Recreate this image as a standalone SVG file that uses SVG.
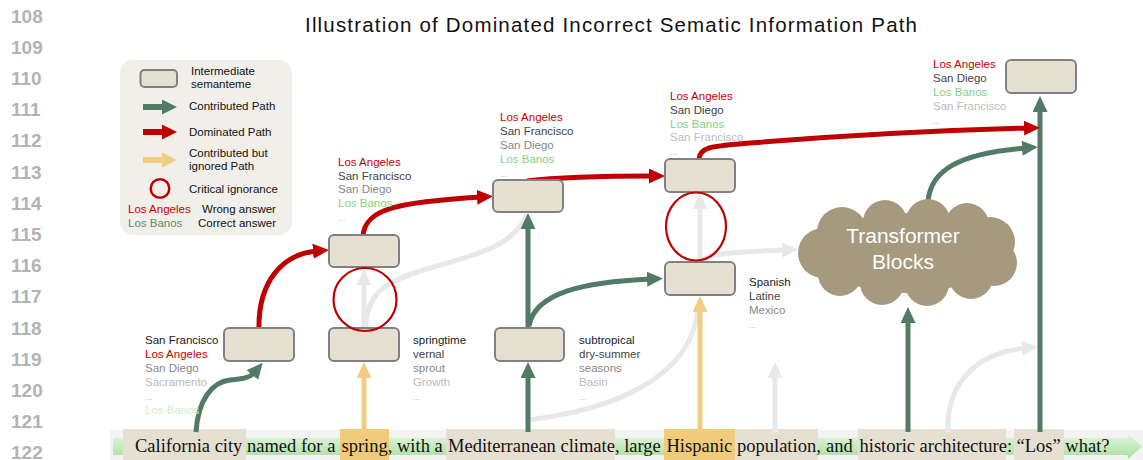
<svg xmlns="http://www.w3.org/2000/svg" width="1143" height="460" viewBox="0 0 1143 460">
<style>
.ln{font-family:"Liberation Sans",Arial,sans-serif;font-size:19px;font-weight:bold;fill:#b3b3b3}
.t{font-family:"Liberation Sans",Arial,sans-serif;font-size:11.5px}
.lg{font-family:"Liberation Sans",Arial,sans-serif;font-size:11.5px;fill:#111}
.node{fill:#e6e0d2;stroke:#808080;stroke-width:2}
.cg{fill:none;stroke:#527b65;stroke-width:5}
.cr{fill:none;stroke:#c00000;stroke-width:5}
.cy{fill:none;stroke:#f1cd80;stroke-width:5}
.cl{fill:none;stroke:#e7e8e8;stroke-width:5}
.crit{fill:none;stroke:#c00000;stroke-width:2.2}
.red{fill:#cc0000}.blk{fill:#1a1a1a}.dk{fill:#444}.gr{fill:#888}.lt{fill:#bbb}.grn{fill:#7ed37e}
.dots{font-size:9px;fill:#bbb}
.hb{fill:#e6e0d2}.ho{fill:#f0cb7c}
.sent{font-family:"Liberation Serif","Times New Roman",serif;font-size:18.5px;fill:#111}
</style>
<defs>
<marker id="mg" viewBox="0 0 16 15" refX="4" refY="7.5" markerWidth="16" markerHeight="15" markerUnits="userSpaceOnUse" orient="auto"><path d="M0,0 L16,7.5 L0,15 z" fill="#527b65"/></marker>
<marker id="mr" viewBox="0 0 16 15" refX="4" refY="7.5" markerWidth="16" markerHeight="15" markerUnits="userSpaceOnUse" orient="auto"><path d="M0,0 L16,7.5 L0,15 z" fill="#c00000"/></marker>
<marker id="my" viewBox="0 0 16 15" refX="4" refY="7.5" markerWidth="16" markerHeight="15" markerUnits="userSpaceOnUse" orient="auto"><path d="M0,0 L16,7.5 L0,15 z" fill="#f1cd80"/></marker>
<marker id="ml" viewBox="0 0 16 15" refX="4" refY="7.5" markerWidth="16" markerHeight="15" markerUnits="userSpaceOnUse" orient="auto"><path d="M0,0 L16,7.5 L0,15 z" fill="#e7e8e8"/></marker>
<linearGradient id="bar" x1="0" y1="0" x2="0" y2="1">
<stop offset="0" stop-color="#e2f6dd"/><stop offset="1" stop-color="#a9dea0"/>
</linearGradient>
</defs>
<rect width="1143" height="460" fill="#fff"/>

<g id="line-numbers">
<text class="ln" x="11" y="22.5">108</text>
<text class="ln" x="11" y="53.7">109</text>
<text class="ln" x="11" y="84.9">110</text>
<text class="ln" x="11" y="116.1">111</text>
<text class="ln" x="11" y="147.3">112</text>
<text class="ln" x="11" y="178.5">113</text>
<text class="ln" x="11" y="209.7">114</text>
<text class="ln" x="11" y="240.9">115</text>
<text class="ln" x="11" y="272.1">116</text>
<text class="ln" x="11" y="303.3">117</text>
<text class="ln" x="11" y="334.5">118</text>
<text class="ln" x="11" y="365.7">119</text>
<text class="ln" x="11" y="396.9">120</text>
<text class="ln" x="11" y="428.1">121</text>
<text class="ln" x="11" y="459.3">122</text>
</g>

<text x="611" y="32" text-anchor="middle" textLength="612" font-family="'Liberation Sans',Arial,sans-serif" font-size="20.5" fill="#111">Illustration of Dominated Incorrect Sematic Information Path</text>

<g id="legend">
<rect x="120" y="60" width="172" height="175" rx="13" fill="#f1efe9"/>
<rect class="node" x="140.5" y="70" width="36.5" height="17" rx="4" stroke-width="1.5"/>
<text class="lg" x="191" y="75">Intermediate</text>
<text class="lg" x="191" y="88">semanteme</text>
<path d="M143,104 H162 V99.5 L177,107 L162,114.5 V110 H143 Z" fill="#527b65"/>
<text class="lg" x="189" y="110">Contributed Path</text>
<path d="M143,129 H162 V124.5 L177,132 L162,139.5 V135 H143 Z" fill="#c00000"/>
<text class="lg" x="189" y="136">Dominated Path</text>
<path d="M143,157 H162 V152.5 L177,160 L162,167.5 V163 H143 Z" fill="#f1cd80"/>
<text class="lg" x="189" y="157">Contributed but</text>
<text class="lg" x="189" y="170">ignored Path</text>
<circle cx="160" cy="188.5" r="9.3" fill="none" stroke="#c00000" stroke-width="2.5"/>
<text class="lg" x="189" y="193">Critical ignorance</text>
<text class="lg" x="128" y="213" style="fill:#cc0000">Los Angeles</text>
<text class="lg" x="202" y="213">Wrong answer</text>
<text class="lg" x="128" y="227" style="fill:#5b8c6e">Los Banos</text>
<text class="lg" x="198" y="227">Correct answer</text>
</g>

<g id="input-sentence">
<rect x="110" y="430" width="1033" height="30" fill="#f3f3f3"/>
<path d="M113,438 H1128 V434 L1142,446.5 L1128,459 V455 H113 Z" fill="url(#bar)"/>
<rect class="hb" x="123" y="429" width="123" height="31"/>
<rect class="ho" x="340" y="429" width="49" height="31"/>
<rect class="hb" x="446" y="429" width="169" height="31"/>
<rect class="ho" x="664" y="429" width="71" height="31"/>
<rect class="hb" x="735" y="429" width="83" height="31"/>
<rect class="hb" x="858" y="429" width="148" height="31"/>
<rect class="hb" x="1014" y="429" width="50" height="31"/>
<text class="sent" y="452"><tspan x="135">California city</tspan> named for a <tspan x="341.5">spring</tspan>, with a <tspan x="448">Mediterranean climate</tspan>, large <tspan x="666.5">Hispanic</tspan> <tspan x="737">population</tspan>, <tspan x="826">and</tspan> <tspan x="859.5">historic architecture</tspan>: <tspan x="1016.5">“Los”</tspan> what?</text>
</g>

<g id="connectors">
<path class="cl" d="M366,328 C366,290 390,280 430,268 C480,254 515,245 527,214"/>
<path class="cl" d="M528,420 C610,410 690,380 698,310"/>
<path class="cl" d="M775,432 V374" marker-end="url(#ml)"/>
<path class="cl" d="M948,432 C946,380 980,352 1026,348" marker-end="url(#ml)"/>
<path class="cl" d="M701,262 C704,254 730,252 786,250" marker-end="url(#ml)"/>
<path class="cl" d="M364,328 V281" marker-end="url(#ml)"/>
<path class="cl" d="M700,262 V205" marker-end="url(#ml)"/>

<path class="cg" d="M196,432 C198,400 212,382 230,380 C242,379 250,378 255,372" marker-end="url(#mg)"/>
<path class="cg" d="M528,432 V374" marker-end="url(#mg)"/>
<path class="cg" d="M528,330 V225" marker-end="url(#mg)"/>
<path class="cg" d="M529,326 C535,292 585,282 651,279" marker-end="url(#mg)"/>
<path class="cg" d="M908,432 V319" marker-end="url(#mg)"/>
<path class="cg" d="M928,202 C930,170 960,153 1026,148" marker-end="url(#mg)"/>
<path class="cg" d="M1040,432 V108" marker-end="url(#mg)"/>

<path class="cy" d="M364,432 V374" marker-end="url(#my)"/>
<path class="cy" d="M700,432 V308" marker-end="url(#my)"/>

<path class="cr" d="M259,329 C258,282 282,254 317,251" marker-end="url(#mr)"/>
<path class="cr" d="M363,236 C365,208 400,202 481,197" marker-end="url(#mr)"/>
<path class="cr" d="M527,181 C560,177 610,176 653,176" marker-end="url(#mr)"/>
<path class="cr" d="M699,160 C699,146 715,146 750,143 C850,135 950,130 1028,128" marker-end="url(#mr)"/>
</g>

<g id="n1"><rect class="node" x="224" y="328" width="70" height="33" rx="5"/>
<text class="t" x="145"><tspan class="blk" y="344">San Francisco</tspan><tspan class="red" x="145" y="358">Los Angeles</tspan><tspan class="gr" x="145" y="372">San Diego</tspan><tspan class="lt" x="145" y="386">Sacramento</tspan><tspan class="dots" x="145" y="400">...</tspan><tspan x="145" y="414" style="fill:#ccefc6">Los Banos</tspan></text></g>

<g id="n2"><rect class="node" x="329" y="328" width="70" height="33" rx="5"/>
<text class="t" x="413"><tspan class="blk" y="344">springtime</tspan><tspan class="dk" x="413" y="358">vernal</tspan><tspan class="gr" x="413" y="372">sprout</tspan><tspan class="lt" x="413" y="386">Growth</tspan><tspan class="dots" x="413" y="400">...</tspan></text></g>

<g id="n3"><rect class="node" x="329" y="235" width="70" height="32" rx="5"/>
<text class="t" x="338"><tspan class="red" y="166">Los Angeles</tspan><tspan class="dk" x="338" y="179.5">San Francisco</tspan><tspan class="gr" x="338" y="193">San Diego</tspan><tspan class="grn" x="338" y="207">Los Banos</tspan><tspan class="dots" x="338" y="221">...</tspan></text></g>

<g id="n4"><rect class="node" x="495" y="328" width="69" height="33" rx="5"/>
<text class="t" x="579"><tspan class="blk" y="344">subtropical</tspan><tspan class="dk" x="579" y="358">dry-summer</tspan><tspan class="gr" x="579" y="372">seasons</tspan><tspan class="lt" x="579" y="386">Basin</tspan><tspan class="dots" x="579" y="400">...</tspan></text></g>

<g id="n5"><rect class="node" x="493" y="180" width="70" height="32" rx="5"/>
<text class="t" x="500"><tspan class="red" y="121">Los Angeles</tspan><tspan class="dk" x="500" y="135">San Francisco</tspan><tspan class="gr" x="500" y="149">San Diego</tspan><tspan class="grn" x="500" y="163">Los Banos</tspan><tspan class="dots" x="500" y="177">...</tspan></text></g>

<g id="n6"><rect class="node" x="665" y="262" width="70" height="33" rx="5"/>
<text class="t" x="749"><tspan class="blk" y="286">Spanish</tspan><tspan class="dk" x="749" y="300">Latine</tspan><tspan class="gr" x="749" y="314">Mexico</tspan><tspan class="dots" x="749" y="328">...</tspan></text></g>

<g id="n7"><rect class="node" x="665" y="159" width="70" height="33" rx="5"/>
<text class="t" x="670"><tspan class="red" y="100">Los Angeles</tspan><tspan class="dk" x="670" y="114">San Diego</tspan><tspan class="grn" x="670" y="128">Los Banos</tspan><tspan class="lt" x="670" y="141">San Francisco</tspan><tspan class="dots" x="670" y="155">...</tspan></text></g>

<g id="n8"><rect class="node" x="1006" y="60" width="70" height="33" rx="5"/>
<text class="t" x="933"><tspan class="red" y="68">Los Angeles</tspan><tspan class="dk" x="933" y="82">San Diego</tspan><tspan class="grn" x="933" y="96">Los Banos</tspan><tspan class="lt" x="933" y="110">San Francisco</tspan><tspan class="dots" x="933" y="124">...</tspan></text></g>

<g id="transformer-blocks">
<g fill="#a69a7e">
<ellipse cx="907" cy="253" rx="88" ry="40"/>
<circle cx="842" cy="232" r="25"/>
<circle cx="885" cy="222" r="22"/>
<circle cx="928" cy="221" r="22"/>
<circle cx="967" cy="225" r="22"/>
<circle cx="990" cy="242" r="25"/>
<circle cx="823" cy="253" r="25"/>
<circle cx="994" cy="263" r="23"/>
<circle cx="840" cy="274" r="22"/>
<circle cx="882" cy="283" r="22"/>
<circle cx="927" cy="284" r="22"/>
<circle cx="971" cy="277" r="22"/>
</g>
<text x="903" y="243" text-anchor="middle" font-family="'Liberation Sans',Arial,sans-serif" font-size="21" fill="#fff">Transformer</text>
<text x="903" y="269" text-anchor="middle" font-family="'Liberation Sans',Arial,sans-serif" font-size="21" fill="#fff">Blocks</text>
</g>

<g id="critical-ignorance">
<circle class="crit" cx="365" cy="299.5" r="31.5"/>
<ellipse class="crit" cx="696" cy="226.5" rx="30" ry="34"/>
</g>
</svg>
